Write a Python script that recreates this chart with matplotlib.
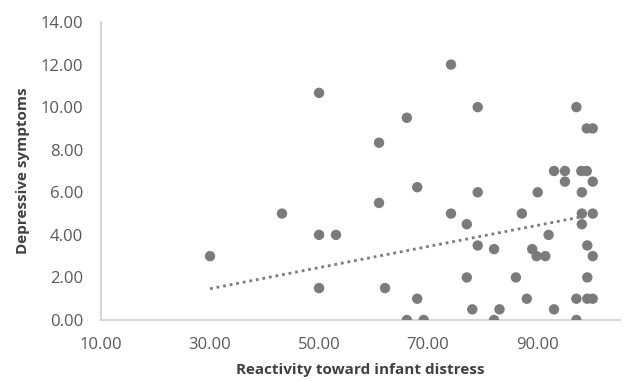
import numpy as np
import matplotlib
matplotlib.use("Agg")
import matplotlib.pyplot as plt

plt.rcParams['font.family'] = ['Open Sans', 'DejaVu Sans']

# reactivity toward infant distress vs depressive symptoms
reactivity = [30.0, 43.2, 50.0, 50.0, 50.0, 53.1, 61.0, 61.0, 62.1, 66.1,
              66.1, 68.0, 68.0, 69.2, 74.2, 74.2, 77.1, 77.1, 78.1, 79.1,
              79.1, 79.1, 82.1, 82.1, 83.1, 86.1, 87.2, 88.1, 89.1, 89.9,
              90.1, 91.5, 92.1, 93.1, 93.1, 95.1, 95.1, 97.2, 97.2, 97.2,
              98.1, 98.2, 98.2, 98.2, 99.1, 99.1, 99.2, 99.2, 99.2, 100.2,
              100.2, 100.2, 100.2, 100.2]
depressive = [3.0, 5.0, 10.67, 4.0, 1.5, 4.0, 8.33, 5.5, 1.5, 9.5,
              0.0, 6.24, 1.0, 0.0, 12.0, 5.0, 4.5, 2.0, 0.5, 10.0,
              6.0, 3.5, 3.33, 0.0, 0.5, 2.0, 5.0, 1.0, 3.33, 3.0,
              6.0, 3.0, 4.0, 7.0, 0.5, 7.0, 6.5, 10.0, 1.0, 0.0,
              7.0, 6.0, 5.0, 4.5, 9.0, 7.0, 3.5, 2.0, 1.0, 9.0,
              6.5, 5.0, 3.0, 1.0]

# trendline as drawn in the original (ends)
trend_x = [30.0, 98.2]
trend_y = [1.47, 4.85]

x_ticks = [10, 30, 50, 70, 90]
y_ticks = [0, 2, 4, 6, 8, 10, 12, 14]

fig = plt.figure(figsize=(6.24, 3.81), dpi=100)
ax = fig.add_axes([101/624, 61/381, 519/624, 298/381])

ax.scatter(reactivity, depressive, s=56, color='#7b7b7b', edgecolors='none', zorder=3)
ax.plot(trend_x, trend_y, linestyle=(0, (1, 1.4)), color='#7b7b7b', linewidth=2, zorder=2)

ax.set_xlim(10, 105.2)
ax.set_ylim(0, 14)
ax.set_xticks(x_ticks)
ax.set_yticks(y_ticks)
ax.set_xticklabels([f'{v:.2f}' for v in x_ticks])
ax.set_yticklabels([f'{v:.2f}' for v in y_ticks])
ax.tick_params(length=0, labelsize=12, colors='#595959')
ax.tick_params(axis='x', pad=12)
ax.tick_params(axis='y', pad=13)

for side in ['top', 'right']:
    ax.spines[side].set_visible(False)
for side in ['left', 'bottom']:
    ax.spines[side].set_color('#d0d0d0')
    ax.spines[side].set_linewidth(1.2)

ax.set_xlabel('Reactivity toward infant distress', fontsize=11,
              fontweight='bold', color='#404040')
ax.set_ylabel('Depressive symptoms', fontsize=11, fontweight='bold',
              color='#404040')
ax.xaxis.set_label_coords(0.5, -0.168)
ax.xaxis.label.set_va('center')
ax.yaxis.set_label_coords(-0.150, 0.5)
ax.yaxis.label.set_va('center')

fig.savefig('out.png', dpi=100)
